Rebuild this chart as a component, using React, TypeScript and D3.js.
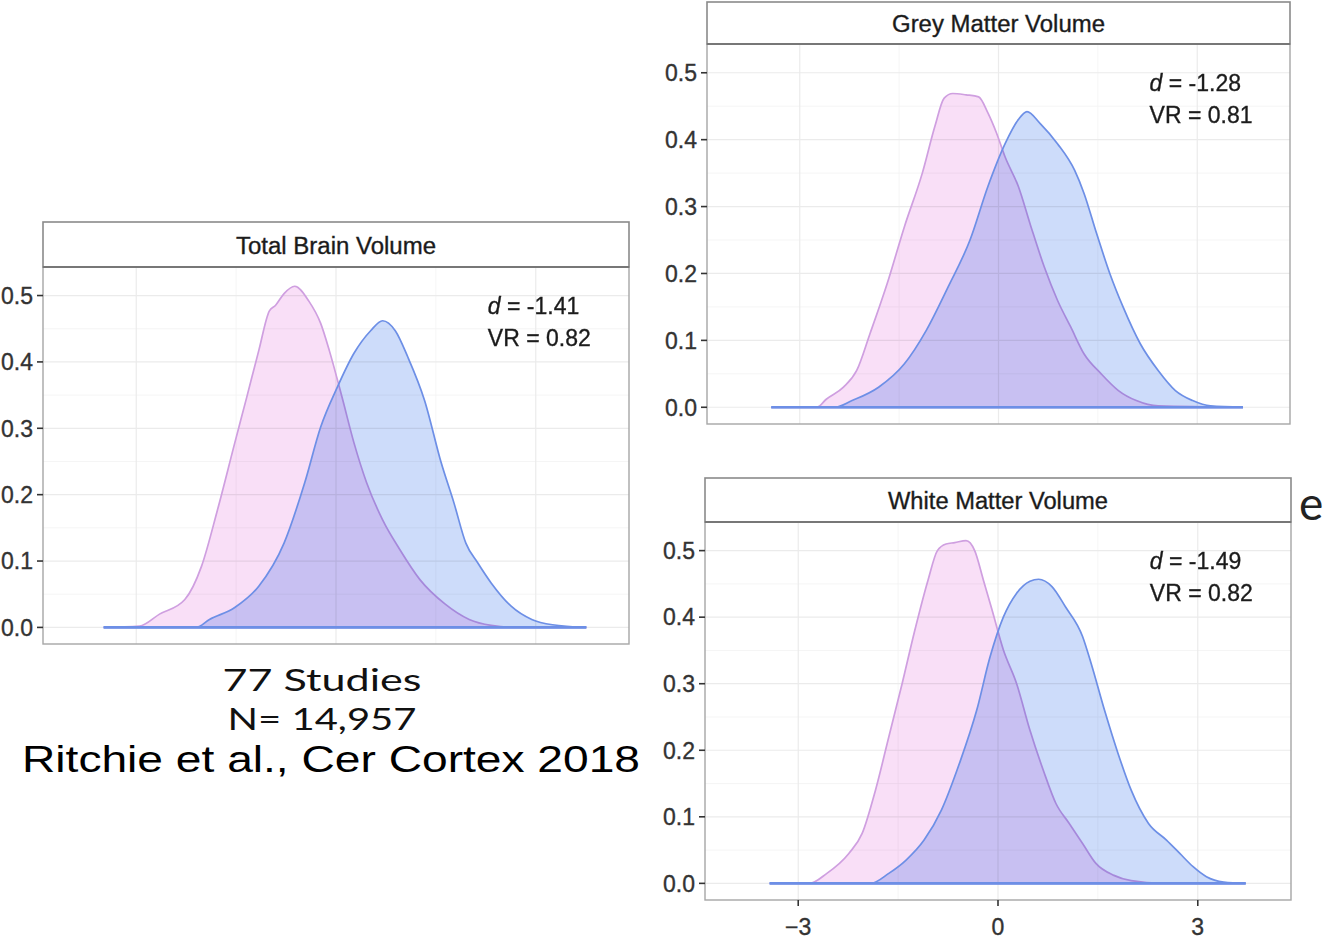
import React from "react";
import * as d3 from "d3";

// ---------- data ----------
const panelTitles = ["Total Brain Volume", "Grey Matter Volume", "White Matter Volume"];
const dValues = ["-1.41", "-1.28", "-1.49"];
const vrValues = ["0.82", "0.81", "0.82"];
const yTicks = [0.0, 0.1, 0.2, 0.3, 0.4, 0.5];
const yMinor = [0.05, 0.15, 0.25, 0.35, 0.45];
const xTicks = [-3, 0, 3];
const xMinor = [-1.5, 1.5];
const xTickLabels = ["\u22123", "0", "3"];

// Total brain volume
const tbvFemaleX = [-3.49, -2.95, -2.65, -2.27, -2.02, -1.78, -1.52, -1.34, -1.16, -1.0, -0.91, -0.78, -0.62, -0.41, -0.23, -0.1, 0.09, 0.27, 0.46, 0.7, 0.96, 1.26, 1.64, 2.0, 2.33, 2.7, 3.76];
const tbvFemaleY = [0, 0.002, 0.02, 0.042, 0.092, 0.177, 0.278, 0.347, 0.417, 0.477, 0.485, 0.503, 0.514, 0.492, 0.458, 0.417, 0.347, 0.278, 0.218, 0.162, 0.117, 0.072, 0.035, 0.012, 0.003, 0.0, 0];
const tbvMaleX = [-3.49, -2.1, -1.9, -1.52, -1.16, -0.78, -0.47, -0.23, 0.02, 0.27, 0.52, 0.7, 0.89, 1.08, 1.33, 1.58, 1.77, 1.95, 2.13, 2.33, 2.63, 2.94, 3.25, 3.76];
const tbvMaleY = [0, 0, 0.012, 0.03, 0.062, 0.127, 0.218, 0.302, 0.362, 0.413, 0.447, 0.462, 0.447, 0.407, 0.342, 0.248, 0.188, 0.127, 0.097, 0.067, 0.032, 0.012, 0.004, 0];

// Grey matter volume
const gmFemaleX = [-3.43, -2.74, -2.6, -2.34, -2.14, -1.94, -1.68, -1.42, -1.15, -0.96, -0.82, -0.69, -0.49, -0.3, -0.16, -0.03, 0.1, 0.3, 0.49, 0.69, 0.89, 1.09, 1.29, 1.55, 1.81, 2.08, 2.41, 3.69];
const gmFemaleY = [0, 0, 0.012, 0.03, 0.055, 0.11, 0.185, 0.27, 0.35, 0.42, 0.462, 0.469, 0.467, 0.464, 0.44, 0.41, 0.374, 0.33, 0.27, 0.21, 0.16, 0.12, 0.08, 0.05, 0.025, 0.01, 0.002, 0];
const gmMaleX = [-3.43, -2.47, -2.21, -1.81, -1.42, -1.09, -0.76, -0.43, -0.16, 0.1, 0.3, 0.43, 0.63, 0.89, 1.15, 1.29, 1.48, 1.68, 1.88, 2.14, 2.41, 2.67, 2.93, 3.2, 3.69];
const gmMaleY = [0, 0, 0.01, 0.03, 0.065, 0.115, 0.18, 0.25, 0.33, 0.394, 0.43, 0.442, 0.424, 0.394, 0.354, 0.32, 0.26, 0.2, 0.15, 0.095, 0.055, 0.025, 0.01, 0.002, 0];

// White matter volume
const wmFemaleX = [-3.43, -2.83, -2.57, -2.24, -2.04, -1.84, -1.64, -1.44, -1.25, -1.05, -0.91, -0.78, -0.65, -0.48, -0.35, -0.22, -0.09, 0.08, 0.28, 0.48, 0.68, 0.87, 1.07, 1.27, 1.47, 1.74, 2.0, 2.46, 3.72];
const wmFemaleY = [0, 0, 0.015, 0.045, 0.075, 0.14, 0.22, 0.3, 0.38, 0.456, 0.5, 0.51, 0.512, 0.515, 0.5, 0.456, 0.411, 0.351, 0.3, 0.23, 0.17, 0.12, 0.09, 0.06, 0.03, 0.012, 0.004, 0, 0];
const wmMaleX = [-3.43, -1.91, -1.64, -1.38, -1.11, -0.85, -0.58, -0.32, -0.12, 0.08, 0.28, 0.48, 0.61, 0.81, 1.01, 1.27, 1.4, 1.6, 1.8, 2.0, 2.26, 2.53, 2.73, 2.93, 3.13, 3.39, 3.72];
const wmMaleY = [0, 0, 0.015, 0.035, 0.065, 0.11, 0.18, 0.26, 0.34, 0.4, 0.436, 0.454, 0.457, 0.446, 0.416, 0.371, 0.33, 0.26, 0.196, 0.14, 0.09, 0.065, 0.045, 0.025, 0.01, 0.002, 0];

const footerLines = ["77 Studies", "N= 14,957"];
const citation = "Ritchie et al., Cer Cortex  2018";

// ---------- layout ----------
const W = 1332;
const H = 940;
const panels = [
  { left: 43, right: 629, stripTop: 222, top: 267, bottom: 644, fx: tbvFemaleX, fy: tbvFemaleY, mx: tbvMaleX, my: tbvMaleY, xAxis: false, titleLen: 200 },
  { left: 707, right: 1290, stripTop: 2, top: 44, bottom: 424, fx: gmFemaleX, fy: gmFemaleY, mx: gmMaleX, my: gmMaleY, xAxis: false, titleLen: 213 },
  { left: 705, right: 1291, stripTop: 478, top: 522, bottom: 900, fx: wmFemaleX, fy: wmFemaleY, mx: wmMaleX, my: wmMaleY, xAxis: true, titleLen: 220 },
];

const FONT = "'Liberation Sans', Arial, Helvetica, sans-serif";
const PINK_FILL = "#f9dff7";
const PINK_LINE = "#cf9fe0";
const BLUE_FILL = "#cddcfa";
const BLUE_LINE = "#6d8fe6";
const SLIDE_FONT = "Lato, 'Open Sans', 'Noto Sans', sans-serif";

function Panel({ p, i }: { p: any; i: number }) {
  const x = d3.scaleLinear().domain([-4.4, 4.4]).range([p.left, p.right]);
  const y = d3.scaleLinear().domain([-0.025, 0.543]).range([p.bottom, p.top]);
  const area = d3
    .area<[number, number]>()
    .x((d) => x(d[0]))
    .y0(y(0))
    .y1((d) => y(d[1]))
    .curve(d3.curveMonotoneX);
  const female = p.fx.map((v: number, k: number) => [v, p.fy[k]] as [number, number]);
  const male = p.mx.map((v: number, k: number) => [v, p.my[k]] as [number, number]);
  const fPath = area(female) || "";
  const mPath = area(male) || "";
  const clipId = `clip${i}`;
  const txt = { fontFamily: FONT, fontSize: 23, stroke: "#262626", strokeWidth: 0.35 } as any;
  return (
    <g>
      <defs>
        <clipPath id={clipId}>
          <rect x={p.left} y={p.top} width={p.right - p.left} height={p.bottom - p.top} />
        </clipPath>
      </defs>
      <rect x={p.left} y={p.top} width={p.right - p.left} height={p.bottom - p.top} fill="#fff" />
      <g clipPath={`url(#${clipId})`}>
        {yMinor.map((t) => (
          <line key={"ym" + t} x1={p.left} x2={p.right} y1={y(t)} y2={y(t)} stroke="#f3f3f3" strokeWidth={0.8} />
        ))}
        {xMinor.map((t) => (
          <line key={"xm" + t} x1={x(t)} x2={x(t)} y1={p.top} y2={p.bottom} stroke="#f3f3f3" strokeWidth={0.8} />
        ))}
        {yTicks.map((t) => (
          <line key={"yg" + t} x1={p.left} x2={p.right} y1={y(t)} y2={y(t)} stroke="#ebebeb" strokeWidth={1.2} />
        ))}
        {xTicks.map((t) => (
          <line key={"xg" + t} x1={x(t)} x2={x(t)} y1={p.top} y2={p.bottom} stroke="#ebebeb" strokeWidth={1.2} />
        ))}
        <path d={fPath} fill={PINK_FILL} style={{ mixBlendMode: "multiply" }} />
        <path d={fPath} fill="none" stroke={PINK_LINE} strokeWidth={1.7} />
        <path d={mPath} fill={BLUE_FILL} style={{ mixBlendMode: "multiply" }} />
        <path d={mPath} fill="none" stroke={BLUE_LINE} strokeWidth={1.7} />
        <line x1={x(p.mx[0])} x2={x(p.mx[p.mx.length - 1])} y1={y(0)} y2={y(0)} stroke={BLUE_LINE} strokeWidth={2.6} />
        <text x={x(2.28)} y={y(0.485)} dy="0.36em" fill="#1a1a1a" {...txt}>
          <tspan fontStyle="italic">d</tspan>
          {" = " + dValues[i]}
        </text>
        <text x={x(2.28)} y={y(0.437)} dy="0.36em" fill="#1a1a1a" {...txt}>
          {"VR = " + vrValues[i]}
        </text>
      </g>
      <rect x={p.left} y={p.top} width={p.right - p.left} height={p.bottom - p.top} fill="none" stroke="#a6a6a6" strokeWidth={1.4} />
      {/* strip */}
      <rect x={p.left} y={p.stripTop} width={p.right - p.left} height={p.top - p.stripTop} fill="#fff" stroke="#8a8a8a" strokeWidth={1.6} />
      <line x1={p.left} x2={p.right} y1={p.top} y2={p.top} stroke="#777" strokeWidth={2.2} />
      <text
        x={(p.left + p.right) / 2}
        y={(p.stripTop + p.top) / 2 + 1}
        dy="0.36em"
        textAnchor="middle"
        fill="#1a1a1a"
        textLength={p.titleLen}
        lengthAdjust="spacingAndGlyphs"
        {...txt}
      >
        {panelTitles[i]}
      </text>
      {/* y axis */}
      {yTicks.map((t) => (
        <g key={"yt" + t}>
          <line x1={p.left - 6} x2={p.left} y1={y(t)} y2={y(t)} stroke="#333" strokeWidth={1.6} />
          <text x={p.left - 10} y={y(t)} dy="0.36em" textAnchor="end" fill="#333" {...txt} stroke="#333">
            {d3.format(".1f")(t)}
          </text>
        </g>
      ))}
      {p.xAxis &&
        xTicks.map((t, k) => (
          <g key={"xt" + t}>
            <line x1={x(t)} x2={x(t)} y1={p.bottom} y2={p.bottom + 6} stroke="#333" strokeWidth={1.6} />
            <text x={x(t)} y={p.bottom + 27} dy="0.36em" textAnchor="middle" fill="#333" {...txt} stroke="#333">
              {xTickLabels[k]}
            </text>
          </g>
        ))}
    </g>
  );
}

export default function App() {
  return (
    <div style={{ position: "absolute", left: 0, top: 0, width: W, height: H, background: "#fff" }}>
      <svg width={W} height={H} viewBox={`0 0 ${W} ${H}`} style={{ display: "block" }}>
        <rect x={0} y={0} width={W} height={H} fill="#fff" />
        {panels.map((p, i) => (
          <Panel key={i} p={p} i={i} />
        ))}
        <text x={322} y={691} textAnchor="middle" fontSize={31} fill="#111" fontFamily={SLIDE_FONT} textLength={199} lengthAdjust="spacingAndGlyphs">
          {footerLines[0]}
        </text>
        <text x={322} y={730} textAnchor="middle" fontSize={31} fill="#111" fontFamily={SLIDE_FONT} textLength={189} lengthAdjust="spacingAndGlyphs">
          {footerLines[1]}
        </text>
        <text x={331} y={772} textAnchor="middle" fontSize={37} fill="#000" fontFamily="'Liberation Sans Narrow', 'Arial Narrow', 'Liberation Sans', sans-serif" textLength={618} lengthAdjust="spacingAndGlyphs">
          {citation}
        </text>
        <text x={1299} y={520} fontSize={46} fill="#222" fontFamily={SLIDE_FONT}>
          e
        </text>
      </svg>
    </div>
  );
}
